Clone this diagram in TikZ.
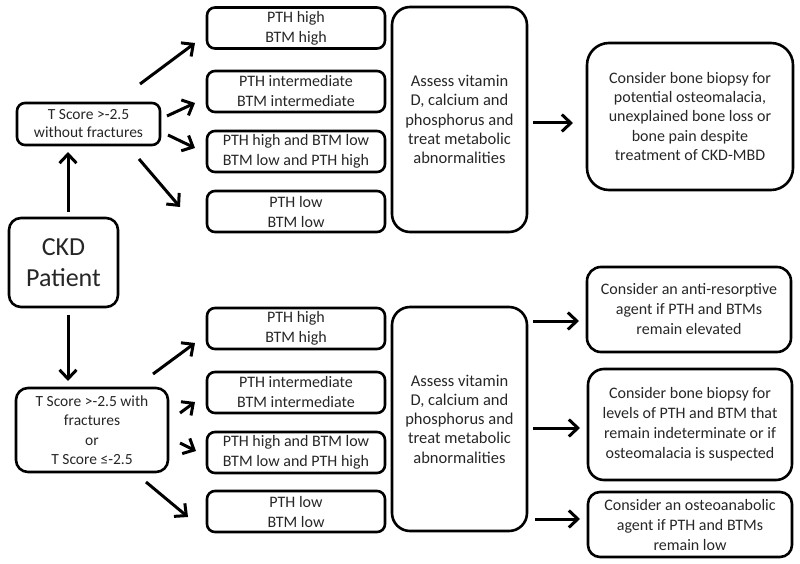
\documentclass[tikz,border=0pt]{standalone}
\usepackage{fontspec}
\setmainfont{Carlito}
\usetikzlibrary{arrows.meta}
\begin{document}
\begin{tikzpicture}[x=1pt,y=-1pt,
  box/.style={draw, line width=2.6pt, rounded corners=8pt, align=center, inner sep=0pt, text=black!85, font=\fontsize{16}{20}\selectfont},
  lab/.style={box, minimum width=178pt, minimum height=41pt},
  arr/.style={line width=3pt, -{Straight Barb[length=9pt,width=17pt,line width=3pt]}}]
  \useasboundingbox (0,0) rectangle (800,564);
  % patient and T score boxes
  \node[box, rounded corners=12pt, minimum width=109pt, minimum height=89pt, font=\fontsize{26}{31}\selectfont] (ckd) at (63.5,262.5) {CKD\\Patient};
  \node[box, minimum width=143pt, minimum height=42pt, font=\fontsize{15.5}{18}\selectfont] (t1) at (88.5,124) {T Score >-2.5\\without fractures};
  \node[box, rounded corners=12pt, minimum width=152pt, minimum height=84pt, font=\fontsize{15.5}{19.5}\selectfont] (t2) at (92,430) {T Score >-2.5 with\\fractures\\or\\T Score ≤-2.5};
  % PTH / BTM boxes
  \node[lab] (p1) at (296,28) {PTH high\\BTM high};
  \node[lab] (p2) at (296,91.5) {PTH intermediate\\BTM intermediate};
  \node[lab] (p3) at (296,151.5) {PTH high and BTM low\\BTM low and PTH high};
  \node[lab] (p4) at (296,211.5) {PTH low\\BTM low};
  \node[lab] (q1) at (296,328.5) {PTH high\\BTM high};
  \node[lab] (q2) at (296,392.5) {PTH intermediate\\BTM intermediate};
  \node[lab] (q3) at (296,452.5) {PTH high and BTM low\\BTM low and PTH high};
  \node[lab] (q4) at (296,511.5) {PTH low\\BTM low};
  % assess boxes
  \node[box, rounded corners=18pt, minimum width=135pt, minimum height=225pt, font=\fontsize{16.5}{19.2}\selectfont] (a1) at (459.5,119.5) {Assess vitamin\\D, calcium and\\phosphorus and\\treat metabolic\\abnormalities};
  \node[box, rounded corners=18pt, minimum width=135pt, minimum height=224pt, font=\fontsize{16.5}{19.2}\selectfont] (a2) at (459.5,419) {Assess vitamin\\D, calcium and\\phosphorus and\\treat metabolic\\abnormalities};
  % recommendations
  \node[box, rounded corners=22pt, minimum width=206pt, minimum height=147pt, font=\fontsize{16}{19.3}\selectfont] (r1) at (690,116.5) {Consider bone biopsy for\\potential osteomalacia,\\unexplained bone loss or\\bone pain despite\\treatment of CKD-MBD};
  \node[box, rounded corners=14pt, minimum width=204pt, minimum height=85pt] (r2) at (689,309.5) {Consider an anti-resorptive\\agent if PTH and BTMs\\remain elevated};
  \node[box, rounded corners=16pt, minimum width=204pt, minimum height=111pt] (r3) at (690,424.5) {Consider bone biopsy for\\levels of PTH and BTM that\\remain indeterminate or if\\osteomalacia is suspected};
  \node[box, rounded corners=12pt, minimum width=204pt, minimum height=65pt] (r4) at (690,524.5) {Consider an osteoanabolic\\agent if PTH and BTMs\\remain low};
  % arrow ends
  \coordinate (u0) at (68,212);  \coordinate (v0) at (68,152);
  \coordinate (u1) at (140,84);  \coordinate (v1) at (195,43);
  \coordinate (u2) at (167,116); \coordinate (v2) at (195,103);
  \coordinate (u3) at (168,135); \coordinate (v3) at (195,148);
  \coordinate (u4) at (139,159); \coordinate (v4) at (180,207);
  \coordinate (w0) at (68,315);  \coordinate (z0) at (68,381);
  \coordinate (w1) at (153,374); \coordinate (z1) at (195,343);
  \coordinate (w2) at (180,413); \coordinate (z2) at (195,402);
  \coordinate (w3) at (180,443); \coordinate (z3) at (196,451);
  \coordinate (w4) at (146,482); \coordinate (z4) at (188,517);
  \coordinate (m1) at (533,123); \coordinate (n1) at (573,123);
  \coordinate (m2) at (533,321); \coordinate (n2) at (579,321);
  \coordinate (m3) at (533,428); \coordinate (n3) at (580,428);
  \coordinate (m4) at (535,519); \coordinate (n4) at (580,519);
  \draw[arr] (u0) -- (v0);
  \draw[arr] (u1) -- (v1);
  \draw[arr] (u2) -- (v2);
  \draw[arr] (u3) -- (v3);
  \draw[arr] (u4) -- (v4);
  \draw[arr] (w0) -- (z0);
  \draw[arr] (w1) -- (z1);
  \draw[arr] (w2) -- (z2);
  \draw[arr] (w3) -- (z3);
  \draw[arr] (w4) -- (z4);
  \draw[arr] (m1) -- (n1);
  \draw[arr] (m2) -- (n2);
  \draw[arr] (m3) -- (n3);
  \draw[arr] (m4) -- (n4);
\end{tikzpicture}
\end{document}
